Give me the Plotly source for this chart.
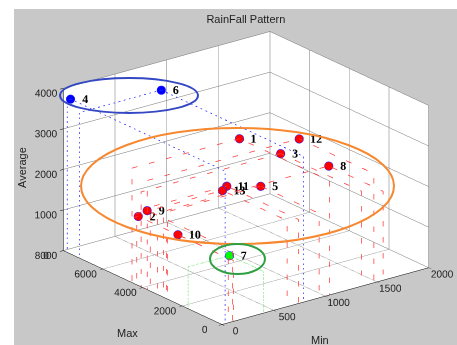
import plotly.graph_objects as go

# ---- data ----
labels = ["1", "2", "3", "4", "5", "6", "7", "8", "9", "10", "11", "12", "13"]
min_vals = [1040, 60, 1350, 30, 940, 790, 400, 1560, 100, 110, 740, 1470, 630]
max_vals = [4540, 4540, 4080, 7800, 2950, 7180, 1710, 2750, 4300, 2800, 3620, 3770, 3260]
avg_vals = [2820, 1590, 2340, 3760, 2080, 3590, 1030, 2190, 1760, 1500, 2070, 2690, 2120]
cluster = ["r", "r", "r", "b", "r", "b", "g", "r", "r", "r", "r", "r", "r"]

min_ticks = [0, 500, 1000, 1500, 2000]
max_ticks = [0, 2000, 4000, 6000, 8000]
avg_ticks = [0, 1000, 2000, 3000, 4000]

line_colors = {"r": "#ff3b3b", "b": "#2b2bff", "g": "#22dd22"}
fill_colors = {"r": "#ff0000", "b": "#0000ff", "g": "#00ff00"}

fig = go.Figure()

# projection (drop) lines per cluster
for c in ["b", "r", "g"]:
    xs, ys, zs = [], [], []
    for x, y, z, cl in zip(min_vals, max_vals, avg_vals, cluster):
        if cl != c:
            continue
        xs += [x, 0, 0, None, x, x, x, None]
        ys += [y, y, y, None, y, 0, 0, None]
        zs += [z, z, 0, None, z, z, 0, None]
    fig.add_trace(go.Scatter3d(x=xs, y=ys, z=zs, mode="lines",
                               line=dict(color=line_colors[c], width=1.5, dash="dot"),
                               hoverinfo="skip", showlegend=False))

# points
fig.add_trace(go.Scatter3d(
    x=min_vals, y=max_vals, z=avg_vals, mode="markers+text",
    text=labels, textposition="middle right",
    textfont=dict(family="Liberation Serif", size=12, color="black", weight="bold"),
    marker=dict(size=5, color=[fill_colors[c] for c in cluster],
                line=dict(color="#2020ff", width=1), opacity=1),
    showlegend=False, hoverinfo="skip"))

axis_common = dict(
    showbackground=True, backgroundcolor="white",
    gridcolor="#747474", gridwidth=1,
    showline=True, linecolor="black", linewidth=1,
    ticks="outside", ticklen=4, tickcolor="black", tickangle=0,
    zeroline=False, showspikes=False,
    tickfont=dict(family="Liberation Sans", size=11, color="#222222"),
    title=dict(text=""),
)

s = 1.56
title_font = dict(family="Liberation Sans", size=11, color="#222222")
fig.update_layout(
    width=457, height=345,
    margin=dict(l=0, r=0, t=0, b=0),
    paper_bgcolor="white",
    title=dict(text="RainFall Pattern", x=0.538, y=0.945, xanchor="center", yanchor="middle",
               font=title_font),
    scene=dict(
        domain=dict(x=[0.076, 1.0], y=[0.0, 0.968]),
        xaxis=dict(axis_common, range=[0, 2000], tickvals=min_ticks),
        yaxis=dict(axis_common, range=[0, 8000], tickvals=max_ticks),
        zaxis=dict(axis_common, range=[0, 4000], tickvals=avg_ticks),
        aspectmode="manual", aspectratio=dict(x=1 * s, y=1 * s, z=0.667 * s),
        camera=dict(projection=dict(type="orthographic"),
                    eye=dict(x=-0.569 * 1.28, y=-0.741 * 1.28, z=0.358 * 1.28),
                    up=dict(x=0, y=0, z=1), center=dict(x=0, y=0, z=0)),
        bgcolor="rgba(0,0,0,0)",
    ),
    annotations=[
        dict(text="Min", xref="paper", yref="paper", x=320 / 457, y=1 - 340 / 345,
             showarrow=False, font=title_font, xanchor="center", yanchor="middle"),
        dict(text="Max", xref="paper", yref="paper", x=127 / 457, y=1 - 333 / 345,
             showarrow=False, font=title_font, xanchor="center", yanchor="middle"),
        dict(text="Average", xref="paper", yref="paper", x=22 / 457, y=1 - 168 / 345,
             showarrow=False, font=title_font, textangle=-90, xanchor="center", yanchor="middle"),
    ],
    shapes=[
        dict(type="rect", xref="paper", yref="paper", x0=14 / 457, x1=1, y0=0, y1=1 - 9 / 345,
             fillcolor="#c8c8c8", line=dict(width=0), layer="below"),
        dict(type="circle", xref="paper", yref="paper", x0=60 / 457, x1=198 / 457,
             y0=1 - 113 / 345, y1=1 - 78 / 345, line=dict(color="#3448c4", width=2), layer="above"),
        dict(type="circle", xref="paper", yref="paper", x0=81 / 457, x1=394 / 457,
             y0=1 - 244 / 345, y1=1 - 128 / 345, line=dict(color="#f7882f", width=2), layer="above"),
        dict(type="circle", xref="paper", yref="paper", x0=210 / 457, x1=265 / 457,
             y0=1 - 274 / 345, y1=1 - 244 / 345, line=dict(color="#2ea043", width=2), layer="above"),
    ],
)

fig.write_html("out.html", config={"displayModeBar": False},
               post_script="document.body.style.margin='0';document.body.style.overflow='hidden';")
